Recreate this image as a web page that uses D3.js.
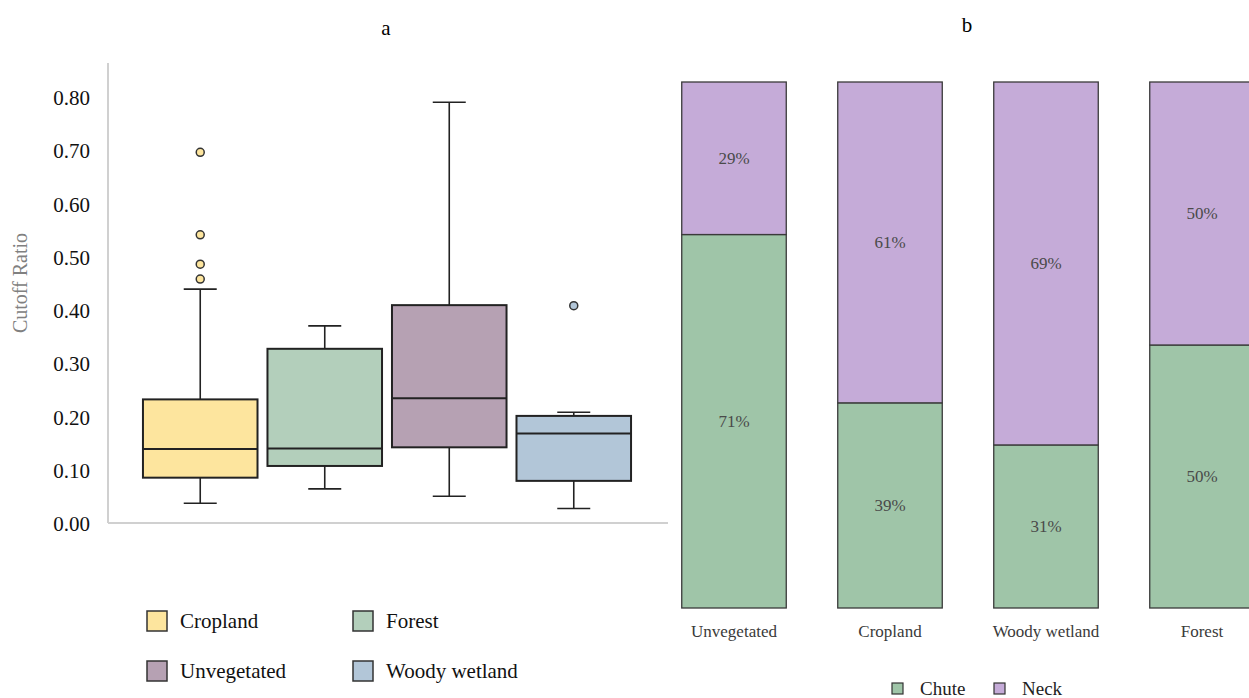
<!DOCTYPE html>
<html>
<head>
<meta charset="utf-8">
<script src="https://cdn.jsdelivr.net/npm/d3@7"></script>
<style>
  body { margin: 0; background: #fff; }
  text { font-family: "Liberation Serif", "Times New Roman", serif; }
</style>
</head>
<body>
<div id="chart"></div>
<script>
var width = 1249;
var height = 698;

// panel a: box plot stats (cutoff ratio)
var boxCats = ["Cropland", "Forest", "Unvegetated", "Woody wetland"];
var boxColors = ["#fde59e", "#b3cfbb", "#b6a1b3", "#b2c6d8"];
var whiskerLow = [0.039, 0.066, 0.052, 0.029];
var q1 = [0.087, 0.109, 0.144, 0.081];
var median = [0.141, 0.142, 0.236, 0.170];
var q3 = [0.234, 0.329, 0.411, 0.203];
var whiskerHigh = [0.441, 0.372, 0.792, 0.210];
var outliers = [[0.698, 0.543, 0.488, 0.460], [], [], [0.410]];
var yTicks = [0, 0.1, 0.2, 0.3, 0.4, 0.5, 0.6, 0.7, 0.8];

// panel b: stacked percentages
var barCats = ["Unvegetated", "Cropland", "Woody wetland", "Forest"];
var chute = [71, 39, 31, 50];
var neck = [29, 61, 69, 50];
var seriesNames = ["Chute", "Neck"];
var seriesColors = ["#9fc5a8", "#c5abd8"];

var svg = d3.select("#chart")
    .append("svg")
    .attr("width", width)
    .attr("height", height);

/* ---------- panel a ---------- */
var yScale = d3.scaleLinear().domain([0, 0.8]).range([524, 98]);
var xBand = d3.scaleBand().domain(boxCats).range([133, 641]).padding(0.08);

svg.append("text")
    .attr("x", 386).attr("y", 35)
    .attr("text-anchor", "middle")
    .style("font-size", "21px")
    .text("a");

// axis lines (light grey, no ticks)
svg.append("line")
    .attr("x1", 108).attr("x2", 108)
    .attr("y1", 63).attr("y2", 523)
    .attr("stroke", "#d0d0d0").attr("stroke-width", 2);
svg.append("line")
    .attr("x1", 108).attr("x2", 668)
    .attr("y1", 523).attr("y2", 523)
    .attr("stroke", "#d0d0d0").attr("stroke-width", 2);

var yAxis = d3.axisLeft(yScale)
    .tickValues(yTicks)
    .tickSize(0)
    .tickPadding(0)
    .tickFormat(d3.format(".2f"));

var yG = svg.append("g")
    .attr("transform", "translate(90,0)")
    .call(yAxis);
yG.select(".domain").remove();
yG.selectAll("text")
    .style("font-size", "21px")
    .style("font-family", "Liberation Serif")
    .attr("fill", "#111");

svg.append("text")
    .attr("transform", "translate(27,283) rotate(-90)")
    .attr("text-anchor", "middle")
    .style("font-size", "20px")
    .attr("fill", "#808080")
    .text("Cutoff Ratio");

var boxes = svg.selectAll(".box")
    .data(boxCats)
    .enter()
    .append("g")
    .attr("class", "box");

var capW = 33;

boxes.each(function (c, i) {
    var g = d3.select(this);
    var x0 = xBand(c);
    var bw = xBand.bandwidth();
    var cx = x0 + bw / 2;

    // whiskers
    g.append("line")
        .attr("x1", cx).attr("x2", cx)
        .attr("y1", yScale(q3[i])).attr("y2", yScale(whiskerHigh[i]))
        .attr("stroke", "#222").attr("stroke-width", 1.6);
    g.append("line")
        .attr("x1", cx).attr("x2", cx)
        .attr("y1", yScale(q1[i])).attr("y2", yScale(whiskerLow[i]))
        .attr("stroke", "#222").attr("stroke-width", 1.6);
    g.append("line")
        .attr("x1", cx - capW / 2).attr("x2", cx + capW / 2)
        .attr("y1", yScale(whiskerHigh[i])).attr("y2", yScale(whiskerHigh[i]))
        .attr("stroke", "#222").attr("stroke-width", 1.6);
    g.append("line")
        .attr("x1", cx - capW / 2).attr("x2", cx + capW / 2)
        .attr("y1", yScale(whiskerLow[i])).attr("y2", yScale(whiskerLow[i]))
        .attr("stroke", "#222").attr("stroke-width", 1.6);

    // box
    g.append("rect")
        .attr("x", x0)
        .attr("y", yScale(q3[i]))
        .attr("width", bw)
        .attr("height", yScale(q1[i]) - yScale(q3[i]))
        .attr("fill", boxColors[i])
        .attr("stroke", "#222")
        .attr("stroke-width", 2);
    g.append("line")
        .attr("x1", x0).attr("x2", x0 + bw)
        .attr("y1", yScale(median[i])).attr("y2", yScale(median[i]))
        .attr("stroke", "#222").attr("stroke-width", 2);

    // outliers
    g.selectAll("circle")
        .data(outliers[i])
        .enter()
        .append("circle")
        .attr("cx", cx)
        .attr("cy", function (d) { return yScale(d); })
        .attr("r", 4)
        .attr("fill", boxColors[i])
        .attr("stroke", "#333")
        .attr("stroke-width", 1.5);
});

// legend a
var legA = svg.selectAll(".legA")
    .data(boxCats)
    .enter()
    .append("g")
    .attr("class", "legA")
    .attr("transform", function (d, i) {
        return "translate(" + (147 + (i % 2) * 206) + "," + (611 + Math.floor(i / 2) * 50) + ")";
    });
legA.append("rect")
    .attr("width", 20).attr("height", 20)
    .attr("fill", function (d, i) { return boxColors[i]; })
    .attr("stroke", "#333").attr("stroke-width", 1.5);
legA.append("text")
    .attr("x", 33).attr("y", 17)
    .style("font-size", "21px")
    .attr("fill", "#111")
    .text(function (d) { return d; });

/* ---------- panel b ---------- */
svg.append("text")
    .attr("x", 967).attr("y", 32)
    .attr("text-anchor", "middle")
    .style("font-size", "21px")
    .text("b");

var xBar = d3.scaleBand().domain(barCats).range([656, 1280]).paddingInner(0.33).paddingOuter(0.165);
var yPct = d3.scaleLinear().domain([0, 100]).range([608, 82]);

var stackData = barCats.map(function (c, i) {
    return { cat: c, Chute: chute[i], Neck: neck[i] };
});
var stacked = d3.stack().keys(seriesNames)(stackData);

var layers = svg.selectAll(".layer")
    .data(stacked)
    .enter()
    .append("g")
    .attr("class", "layer")
    .attr("fill", function (d, i) { return seriesColors[i]; });

layers.selectAll("rect")
    .data(function (d) { return d; })
    .enter()
    .append("rect")
    .attr("x", function (d) { return xBar(d.data.cat); })
    .attr("y", function (d) { return yPct(d[1]); })
    .attr("width", xBar.bandwidth())
    .attr("height", function (d) { return yPct(d[0]) - yPct(d[1]); })
    .attr("stroke", "#3a3a3a")
    .attr("stroke-width", 1.3);

layers.selectAll(".pct")
    .data(function (d) { return d; })
    .enter()
    .append("text")
    .attr("class", "pct")
    .attr("x", function (d) { return xBar(d.data.cat) + xBar.bandwidth() / 2; })
    .attr("y", function (d) { return (yPct(d[0]) + yPct(d[1])) / 2; })
    .attr("dy", "0.35em")
    .attr("text-anchor", "middle")
    .attr("fill", "#4a4a4a")
    .style("font-size", "17px")
    .text(function (d) { return (d[1] - d[0]) + "%"; });

var xAxisB = d3.axisBottom(xBar).tickSize(0).tickPadding(0);
var xG = svg.append("g")
    .attr("transform", "translate(0,625)")
    .call(xAxisB);
xG.select(".domain").remove();
xG.selectAll("text")
    .style("font-size", "17px")
    .style("font-family", "Liberation Serif")
    .attr("fill", "#3a3a3a");

// legend b
var legB = svg.selectAll(".legB")
    .data(seriesNames)
    .enter()
    .append("g")
    .attr("class", "legB")
    .attr("transform", function (d, i) {
        return "translate(" + (892 + i * 102) + ",683)";
    });
legB.append("rect")
    .attr("width", 11).attr("height", 11)
    .attr("fill", function (d, i) { return seriesColors[i]; })
    .attr("stroke", "#333").attr("stroke-width", 1.2);
legB.append("text")
    .attr("x", 28).attr("y", 12)
    .style("font-size", "19px")
    .attr("fill", "#222")
    .text(function (d) { return d; });
</script>
</body>
</html>
